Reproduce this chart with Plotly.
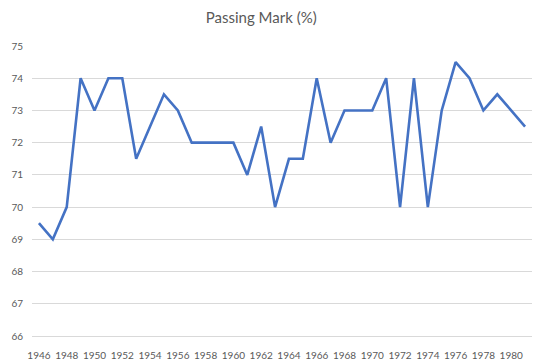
import plotly.graph_objects as go

years = list(range(1946, 1982))
passing_mark = [69.5, 69, 70, 74, 73, 74, 74, 71.5, 72.5, 73.5, 73, 72, 72, 72, 72,
                71, 72.5, 70, 71.5, 71.5, 74, 72, 73, 73, 73, 74, 70, 74, 70, 73,
                74.5, 74, 73, 73.5, 73, 72.5]
x_tick_vals = list(range(1946, 1981, 2))
y_tick_vals = list(range(66, 76))

fig = go.Figure()
fig.add_trace(go.Scatter(x=years, y=passing_mark, mode="lines",
                         line=dict(color="#4472C4", width=2.6)))

fig.update_layout(
    width=550, height=364,
    margin=dict(l=32, r=18, t=46, b=28, autoexpand=False),
    paper_bgcolor="white", plot_bgcolor="white",
    showlegend=False,
    font=dict(family="Lato", color="#595959", size=10),
    title=dict(text="Passing Mark (%)", x=0.475, xanchor="center", y=0.95, yanchor="middle",
               font=dict(size=15, color="#595959", family="Lato")),
)
fig.update_xaxes(range=[1945.5, 1981.5], tickvals=x_tick_vals,
                 ticktext=[str(v) for v in x_tick_vals], automargin=False,
                 showgrid=False, zeroline=False, showline=True, linecolor="#D9D9D9",
                 linewidth=1, ticks="", tickfont=dict(size=10), ticklabelstandoff=10)
fig.update_yaxes(range=[66, 75], tickvals=y_tick_vals, showgrid=True, automargin=False,
                 gridcolor="#D9D9D9", gridwidth=1, zeroline=False, showline=False,
                 ticks="", tickfont=dict(size=10), ticklabelstandoff=8)

fig.write_html("out.html", config={"displayModeBar": False},
               post_script="document.body.style.margin='0';")
